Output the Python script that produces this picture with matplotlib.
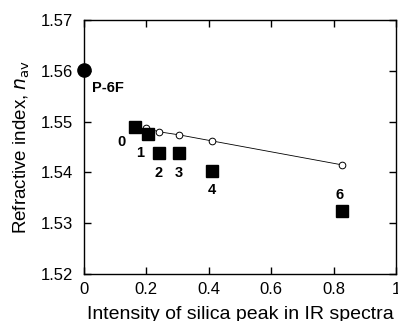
import matplotlib
matplotlib.use("Agg")
import matplotlib.pyplot as plt

plt.rcParams['font.family'] = ['Liberation Sans', 'DejaVu Sans']

# Data
ref_x = [0.0]
ref_y = [1.5601]

sq_x = [0.163, 0.204, 0.240, 0.304, 0.41, 0.826]
sq_y = [1.5490, 1.5476, 1.5439, 1.5439, 1.5403, 1.5324]
sq_labels = ['0', '1', '2', '3', '4', '6']

fit_x = [0.20, 0.24, 0.304, 0.41, 0.826]
fit_y = [1.5487, 1.5480, 1.5474, 1.5462, 1.5415]

fig = plt.figure(figsize=(3.98, 3.21), dpi=100)
ax = fig.add_axes([0.211, 0.146, 0.784, 0.792])

ax.plot(fit_x, fit_y, '-', color='black', lw=0.6, marker='o', ms=4.8,
        mfc='white', mec='black', mew=0.7, clip_on=False)
ax.plot(sq_x, sq_y, 's', color='black', ms=8.5, ls='none')
ax.plot(ref_x, ref_y, 'o', color='black', ms=9.5, clip_on=False, zorder=5)

# point labels (offsets from their square)
offsets = {'0': (-0.044, -0.0030), '1': (-0.025, -0.0037), '2': (0.0, -0.0040),
           '3': (0.0, -0.0040), '4': (0.0, -0.0037), '6': (-0.006, 0.0032)}
for x, y, s in zip(sq_x, sq_y, sq_labels):
    dx, dy = offsets[s]
    ax.text(x + dx, y + dy, s, ha='center', va='center', fontsize=10.5, fontweight='bold')
ax.text(0.026, 1.5566, 'P-6F', ha='left', va='center', fontsize=10.5, fontweight='bold')

ax.set_xlim(0, 1)
ax.set_ylim(1.52, 1.57)
ax.set_xticks([0, 0.2, 0.4, 0.6, 0.8, 1])
ax.set_xticklabels(['0', '0.2', '0.4', '0.6', '0.8', '1'])
ax.set_yticks([1.52, 1.53, 1.54, 1.55, 1.56, 1.57])
ax.set_yticklabels(['1.52', '1.53', '1.54', '1.55', '1.56', '1.57'])
ax.tick_params(direction='in', top=True, right=True, labelsize=12, length=5, width=1)
ax.tick_params(axis='x', pad=6)
ax.tick_params(axis='y', pad=8)
for sp in ax.spines.values():
    sp.set_linewidth(1.0)

ax.set_xlabel('Intensity of silica peak in IR spectra', fontsize=14, labelpad=6)
ax.set_ylabel('Refractive index, $\\mathit{n}_{\\mathrm{av}}$', fontsize=13.5, labelpad=6)

fig.savefig('out.png', dpi=100)
